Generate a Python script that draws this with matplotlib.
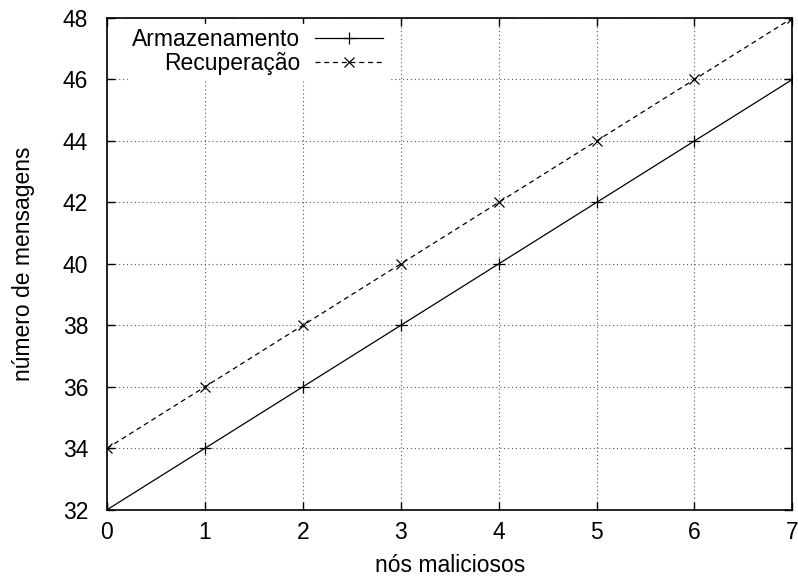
import matplotlib
matplotlib.use('Agg')
import matplotlib.pyplot as plt

# data
nos_maliciosos = [0, 1, 2, 3, 4, 5, 6, 7]
armazenamento = [32, 34, 36, 38, 40, 42, 44, 46]
recuperacao = [34, 36, 38, 40, 42, 44, 46, 48]

x_ticks = [0, 1, 2, 3, 4, 5, 6, 7]
y_ticks = [32, 34, 36, 38, 40, 42, 44, 46, 48]

FS = 16.5
plt.rcParams['font.family'] = ['Liberation Sans', 'DejaVu Sans']
plt.rcParams['font.size'] = FS

fig = plt.figure(figsize=(7.98, 5.80), dpi=100)
ax = fig.add_axes([0.134, 0.121, 0.859, 0.848])

ax.plot(nos_maliciosos, armazenamento, '-', color='black', lw=0.9,
        marker='+', ms=9, mew=0.9, label='Armazenamento')
ax.plot(nos_maliciosos, recuperacao, '--', color='black', lw=0.9,
        dashes=(4, 3), marker='x', ms=7, mew=0.9, label='Recuperação')

ax.set_xlim(0, 7)
ax.set_ylim(32, 48)
ax.set_xticks(x_ticks)
ax.set_yticks(y_ticks)
ax.tick_params(direction='in', length=6, width=1, top=True, right=True,
               labelsize=FS)
ax.tick_params(axis='x', pad=8)
ax.tick_params(axis='y', pad=13.5)
ax.grid(True, linestyle=(0, (1, 2.5)), color='#555555', lw=0.8)
for s in ax.spines.values():
    s.set_linewidth(1.2)

ax.set_xlabel('nós maliciosos', labelpad=7)
ax.set_ylabel('número de mensagens', labelpad=20)

leg = ax.legend(loc='upper right', bbox_to_anchor=(0.41, 0.988),
                markerfirst=False, frameon=True, fancybox=False,
                handlelength=2.97, borderaxespad=0, labelspacing=0.02,
                handletextpad=0.65, borderpad=0.2, fontsize=FS)
leg.get_frame().set_edgecolor('white')
leg.get_frame().set_facecolor('white')
leg.get_frame().set_alpha(1)
for t in leg.get_texts():
    t.set_ha('right')
leg._legend_box.align = 'right'

fig.savefig('out.png', dpi=100)
